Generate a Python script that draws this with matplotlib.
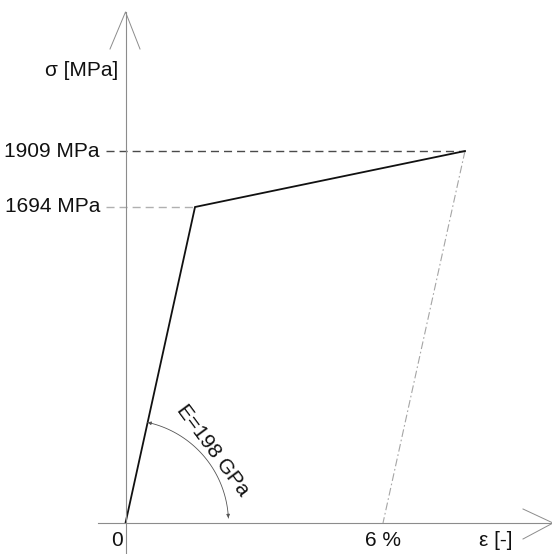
"""Schematic bilinear stress-strain diagram of a prestressing steel."""

import numpy as np
import matplotlib
matplotlib.use("Agg")
import matplotlib.pyplot as plt

# --- data -------------------------------------------------------------
strain_pct = [0.0, 1.62, 7.91]          # origin, yield, ultimate (schematic)
stress_mpa = [0.0, 1694.0, 1909.0]
unload_strain = [7.91, 6.0]
unload_stress = [1909.0, 0.0]
stress_ticks = [1909.0, 1694.0]
stress_labels = ["1909 MPa", "1694 MPa"]
strain_ticks = [6.0]
strain_labels = ["6 %"]
modulus_label = "E=198 GPa"

# --- layout (pixels, figure is 552 x 554) -----------------------------
W, H = 552, 554
ORIGIN = (125.5, 523.0)
PX_PER_PCT = (383.0 - ORIGIN[0]) / 6.0
YIELD_PX = 316.0               # height of the yield point above origin
POW = 1.365                    # schematic stress scale (not to scale)

FONT = ["Liberation Sans Narrow", "Liberation Sans", "DejaVu Sans"]
FS = 15
AX_GREY = "#8c8c8c"


def fwd(y):
    y = np.asarray(y, dtype=float)
    return np.sign(y) * np.abs(y) ** POW


def inv(y):
    y = np.asarray(y, dtype=float)
    return np.sign(y) * np.abs(y) ** (1.0 / POW)


def main():
    plt.rcParams["font.family"] = FONT
    fig = plt.figure(figsize=(W / 100, H / 100), dpi=100)
    fig.patch.set_facecolor("white")

    # data axes spanning the whole figure
    ax = fig.add_axes([0, 0, 1, 1])
    ax.axis("off")
    ax.set_xlim(-ORIGIN[0] / PX_PER_PCT, (W - ORIGIN[0]) / PX_PER_PCT)
    ax.set_yscale("function", functions=(fwd, inv))
    c = YIELD_PX / fwd(stress_mpa[1])
    below = H - ORIGIN[1]
    ax.set_ylim(float(inv(-below / c)), float(inv(ORIGIN[1] / c)))

    # overlay in pixel coordinates for axes arrows and the modulus arc
    ov = fig.add_axes([0, 0, 1, 1], facecolor="none")
    ov.axis("off")
    ov.set_xlim(0, W)
    ov.set_ylim(H, 0)

    ox, oy = ORIGIN
    ov.plot([ox, ox], [oy + 30, 12], color=AX_GREY, lw=0.8)
    ov.plot([110, ox, 140], [49, 12, 49], color=AX_GREY, lw=0.7)
    ov.plot([98, 553], [oy, oy], color=AX_GREY, lw=0.8)
    ov.plot([523, 553, 523], [509, oy, 539], color=AX_GREY, lw=0.7)

    # helper lines to the stress labels
    line_start = (106 - ox) / PX_PER_PCT
    ax.plot([line_start, strain_pct[2]], [stress_mpa[2]] * 2, color="#4a4a4a",
            lw=1.0, dashes=(5.8, 3.6))
    ax.plot([line_start, strain_pct[1]], [stress_mpa[1]] * 2, color="#b0b0b0",
            lw=1.0, dashes=(5.8, 3.6))

    # unloading branch
    ax.plot(unload_strain, unload_stress, color="#a5a5a5", lw=0.8,
            dashes=(7, 2.5, 1.5, 2.5))

    # stress-strain curve
    ax.plot(strain_pct, stress_mpa, color="#111111", lw=1.3,
            solid_joinstyle="miter")

    # tick labels
    ytr = ax.get_yaxis_transform()
    for v, lab in zip(stress_ticks, stress_labels):
        ax.text(100 / W, v, lab, transform=ytr, ha="right", va="center",
                fontsize=FS, color="#111111")
    for v, lab in zip(strain_ticks, strain_labels):
        ov.text(ox + v * PX_PER_PCT, 540, lab, ha="center", va="center",
                fontsize=FS, color="#111111")
    ov.text(117, 540, "0", ha="center", va="center", fontsize=FS, color="#111111")
    ov.text(496, 540, "ε [-]", ha="center", va="center", fontsize=FS, color="#111111")
    ov.text(118, 70, "σ [MPa]", ha="right", va="center", fontsize=FS, color="#111111")

    # modulus arc
    ang = np.degrees(np.arctan2(YIELD_PX, strain_pct[1] * PX_PER_PCT))
    r = 103.0
    t = np.radians(np.linspace(2.8, ang, 80))
    ov.plot(ox + r * np.cos(t), oy - r * np.sin(t), color="#555555", lw=0.6)
    for a0, a1 in ((5.0, 2.8), (ang - 2.2, ang)):
        p0 = (ox + r * np.cos(np.radians(a0)), oy - r * np.sin(np.radians(a0)))
        p1 = (ox + r * np.cos(np.radians(a1)), oy - r * np.sin(np.radians(a1)))
        ov.annotate("", xy=p1, xytext=p0,
                    arrowprops=dict(arrowstyle="-|>", color="#555555", lw=0.6,
                                    mutation_scale=5, shrinkA=0, shrinkB=0))
    ov.text(213, 450, modulus_label, ha="center", va="center", fontsize=FS,
            rotation=-53.5, rotation_mode="anchor", color="#111111")

    fig.savefig("out.png", dpi=100, facecolor="white")
    plt.close(fig)


if __name__ == "__main__":
    main()
